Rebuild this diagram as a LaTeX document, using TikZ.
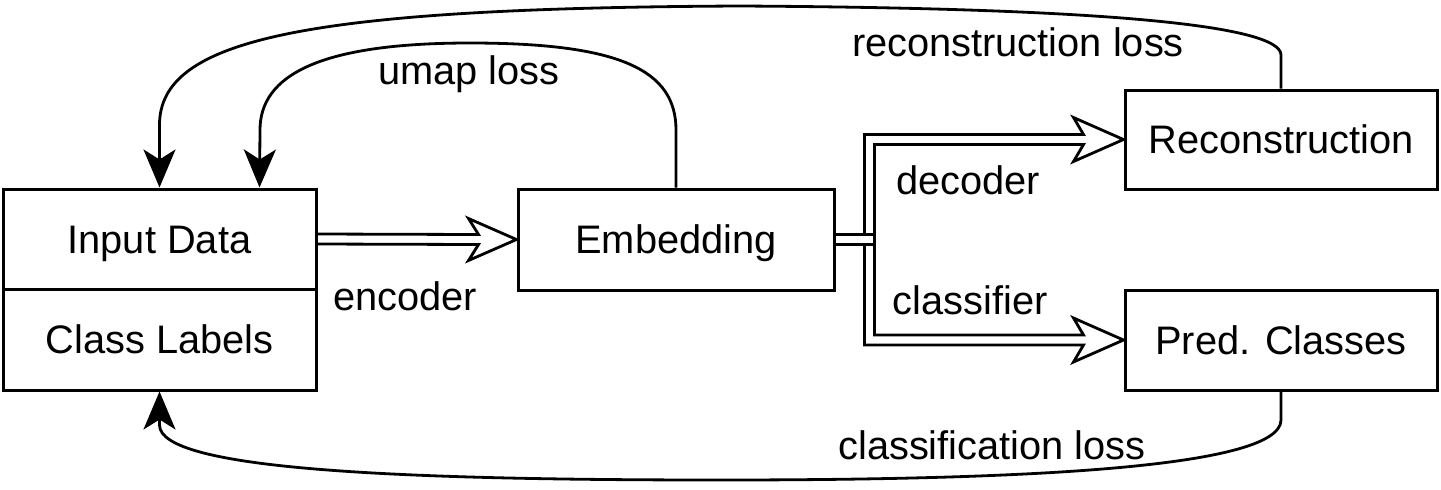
\documentclass[tikz,border=0pt]{standalone}
\usepackage{fontspec}
\setmainfont{Liberation Sans}
\usetikzlibrary{arrows.meta,calc}

\begin{document}
\begin{tikzpicture}[x=0.5pt,y=-0.5pt,>={Stealth[length=19pt,width=16pt,inset=5pt]},
  box/.style={draw,line width=1.5pt,inner sep=0pt,text height=14.3pt,text depth=0pt,font=\fontsize{19.9}{24}\selectfont},
  lbl/.style={inner sep=0pt,text height=14.3pt,text depth=0pt,font=\fontsize{19.9}{24}\selectfont},
  loss/.style={->,line width=1.4pt},
  flex/.style={line width=1.4pt}]
  \useasboundingbox (0,0) rectangle (1441,489);
  \node[box,minimum width=156.5pt,minimum height=50pt] (inp) at (159.5,239) {Input Data};
  \node[box,minimum width=156.5pt,minimum height=50.5pt] (cls) at (159.5,339.5) {Class Labels};
  \node[box,minimum width=158pt,minimum height=50.5pt] (emb) at (676,239.5) {Embedding};
  \node[box,minimum width=156pt,minimum height=49.5pt] (rec) at (1281,139.5) {Reconstruction};
  \node[box,minimum width=156pt,minimum height=50pt] (pred) at (1281,340) {Pred. Classes};
  \coordinate (uin) at ($(inp.north)+(100,0)$);
  \coordinate (jn) at ($(emb.east)+(34,0)$);
  \coordinate (ju) at (jn |- rec.west);
  \coordinate (jd) at (jn |- pred.west);
  \def\w{5} \def\hw{21} \def\hl{48} \def\hi{38}
  \draw[flex] ($(inp.east)+(0,-\w)$) -- ($(emb.west)+(-\hi,-\w)$) -- ($(emb.west)+(-\hl,-\hw)$) -- (emb.west)
    -- ($(emb.west)+(-\hl,\hw)$) -- ($(emb.west)+(-\hi,\w)$) -- ($(inp.east)+(0,\w)$);
  \def\hw{22} \def\hl{50} \def\hi{40}
  \draw[flex] ($(emb.east)+(0,-\w)$) -- ($(jn)+(-\w,-\w)$) -- ($(ju)+(-\w,-\w)$) -- ($(rec.west)+(-\hi,-\w)$)
    -- ($(rec.west)+(-\hl,-\hw)$) -- (rec.west) -- ($(rec.west)+(-\hl,\hw)$) -- ($(rec.west)+(-\hi,\w)$)
    -- ($(ju)+(\w,\w)$) -- ($(jn)+(\w,\w)$) -- ($(emb.east)+(0,\w)$);
  \draw[flex] ($(emb.east)+(0,\w)$) -- ($(jn)+(-\w,\w)$) -- ($(jd)+(-\w,\w)$) -- ($(pred.west)+(-\hi,\w)$)
    -- ($(pred.west)+(-\hl,\hw)$) -- (pred.west) -- ($(pred.west)+(-\hl,-\hw)$) -- ($(pred.west)+(-\hi,-\w)$)
    -- ($(jd)+(\w,-\w)$) -- ($(jn)+(\w,-\w)$) -- ($(emb.east)+(0,-\w)$);
  \draw[loss] (emb.north) -- (676,130) .. controls (676,70) and (620,43) .. (470,43)
    .. controls (320,43) and (260,75) .. (260,130) -- (uin);
  \draw[loss] (rec.north) -- (1281,55) .. controls (1281,25) and (1100,8) .. (740,6)
    .. controls (300,8) and (159.5,40) .. (159.5,125) -- (inp.north);
  \draw[loss] (pred.south) -- (1281,420) .. controls (1281,470) and (1000,480) .. (720,480)
    .. controls (400,480) and (159.5,470) .. (159.5,425) -- (cls.south);
  \node[lbl] (umap) at (469,70) {umap loss};
  \node[lbl] (recl) at (1018,42) {reconstruction loss};
  \node[lbl] (dec) at (968,180) {decoder};
  \node[lbl] (enc) at (405,296) {encoder};
  \node[lbl] (clf) at (970,300) {classifier};
  \node[lbl] (clsl) at (992,445) {classification loss};
\end{tikzpicture}
\end{document}
